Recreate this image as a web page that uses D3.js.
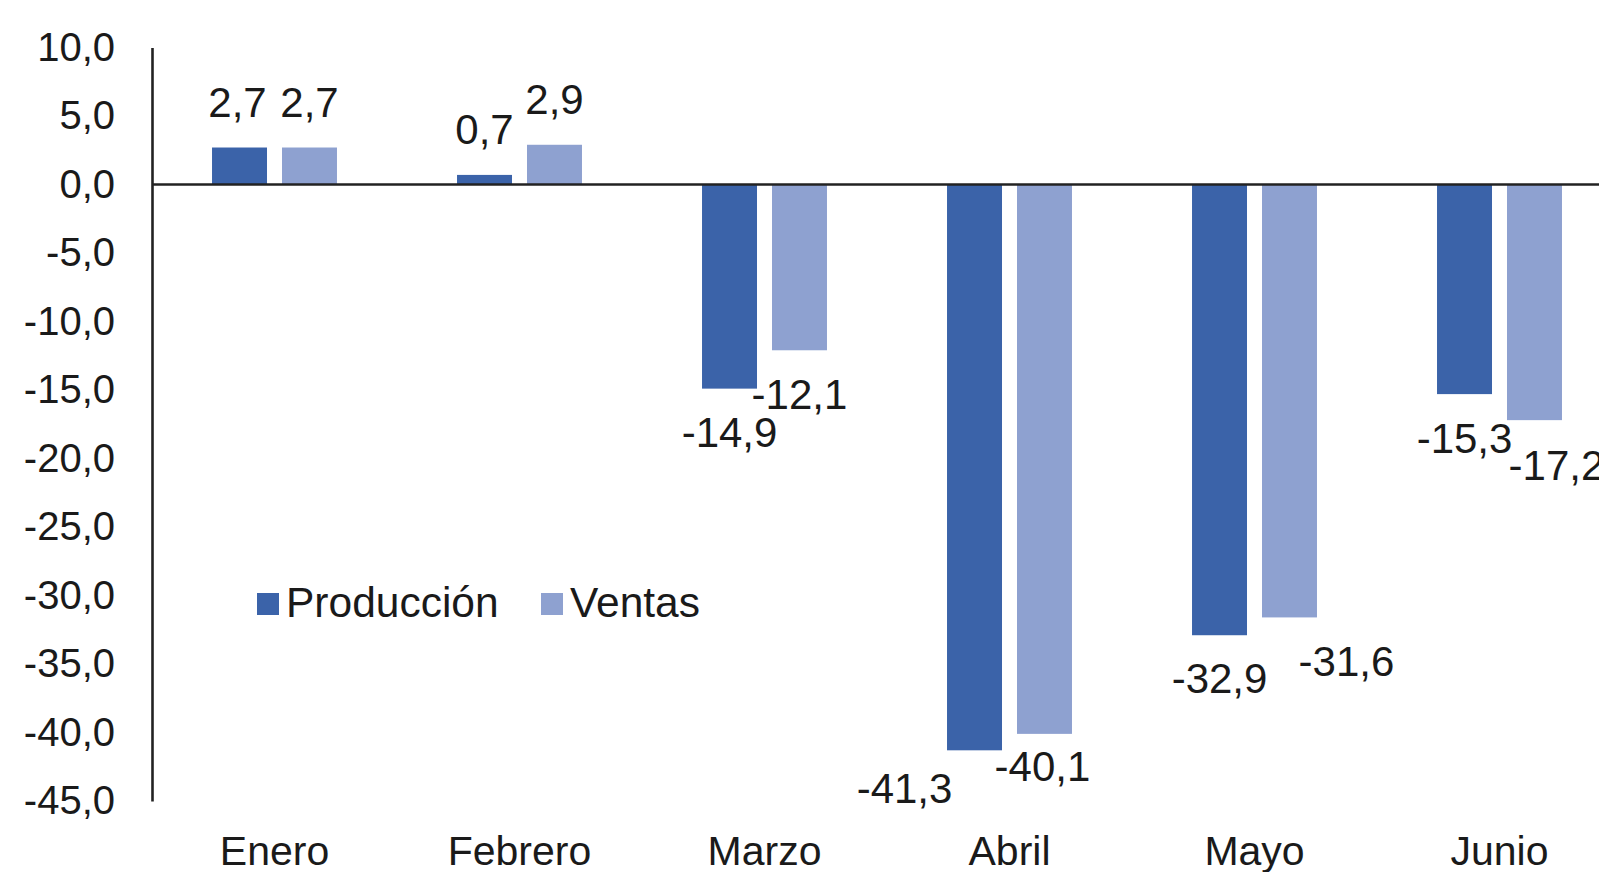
<!DOCTYPE html>
<html>
<head>
<meta charset="utf-8">
<script src="https://cdn.jsdelivr.net/npm/d3@7"></script>
<style>
  body { margin: 0; background: #fff; }
  text { font-family: "Liberation Sans", Arial, sans-serif; fill: #1a1a1a; }
</style>
</head>
<body>
<svg id="drawing_region"></svg>
<script>
// data
const months = ['Enero', 'Febrero', 'Marzo', 'Abril', 'Mayo', 'Junio'];
const series = ['Producción', 'Ventas'];
const produccion = [2.7, 0.7, -14.9, -41.3, -32.9, -15.3];
const ventas = [2.7, 2.9, -12.1, -40.1, -31.6, -17.2];
const yTicks = [10, 5, 0, -5, -10, -15, -20, -25, -30, -35, -40, -45];

// manual nudges of some data labels (dx, dy), as in the picture
const labelNudge = {
    'Producción': [[-2, 0], [0, 0], [0, 0], [-70, -5], [0, 0], [0, 1]],
    'Ventas':     [[0, 0], [0, 0], [0, 1], [-2, -11], [57, 1], [22, 2]]
};

const colors = { 'Producción': '#3b63a9', 'Ventas': '#8ea1d0' };

const width = 1599, height = 872;
const axisX = 152;

const svg = d3.select('#drawing_region')
    .attr('width', width)
    .attr('height', height);

const locale = d3.formatLocale({ decimal: ',', thousands: '.', grouping: [3], currency: ['', '€'], minus: '-' });
const fmt = locale.format('.1f');

const yscale = d3.scaleLinear()
    .domain([-45, 10])
    .range([801, 47.5]);

const x0 = d3.scaleBand()
    .domain(months)
    .range([axisX, axisX + 6 * 245])
    .paddingInner(0.49)
    .paddingOuter(0.245);

const x1 = d3.scaleBand()
    .domain(series)
    .range([0, x0.bandwidth()])
    .paddingInner(0.2143);

const rows = months.map((m, i) => ({
    month: m,
    values: [
        { key: 'Producción', value: produccion[i], i: i },
        { key: 'Ventas', value: ventas[i], i: i }
    ]
}));

// bars
const groups = svg.selectAll('.group')
    .data(rows)
    .enter()
    .append('g')
    .attr('transform', d => `translate(${x0(d.month)},0)`);

groups.selectAll('rect')
    .data(d => d.values)
    .enter()
    .append('rect')
    .attr('x', d => x1(d.key))
    .attr('width', x1.bandwidth())
    .attr('y', d => yscale(Math.max(0, d.value)))
    .attr('height', d => Math.abs(yscale(d.value) - yscale(0)))
    .attr('fill', d => colors[d.key]);

// data labels
groups.selectAll('.lbl')
    .data(d => d.values)
    .enter()
    .append('text')
    .attr('class', 'lbl')
    .attr('x', d => x1(d.key) + x1.bandwidth() / 2 + labelNudge[d.key][d.i][0])
    .attr('y', d => yscale(d.value) + (d.value >= 0 ? -31 : 58) + labelNudge[d.key][d.i][1])
    .attr('text-anchor', 'middle')
    .attr('font-size', '42px')
    .text(d => fmt(d.value));

// y axis
const yaxis = d3.axisLeft(yscale)
    .tickValues(yTicks)
    .tickFormat(fmt)
    .tickSize(0)
    .tickSizeOuter(0)
    .tickPadding(37);

const yaxis_group = svg.append('g')
    .attr('transform', `translate(${axisX},0)`)
    .call(yaxis);
yaxis_group.select('.domain')
    .attr('stroke', '#222')
    .attr('stroke-width', 2.6);
yaxis_group.selectAll('text')
    .attr('font-size', '40px')
    .attr('font-family', '"Liberation Sans", Arial, sans-serif')
    .attr('fill', '#1a1a1a');

// zero line
svg.append('line')
    .attr('x1', axisX)
    .attr('x2', width)
    .attr('y1', yscale(0))
    .attr('y2', yscale(0))
    .attr('stroke', '#222')
    .attr('stroke-width', 2.6);

// category labels
const xaxis = d3.axisBottom(x0)
    .tickSize(0)
    .tickPadding(36);
const xaxis_group = svg.append('g')
    .attr('transform', 'translate(0,800)')
    .call(xaxis);
xaxis_group.select('.domain').remove();
xaxis_group.selectAll('text')
    .attr('font-size', '41px')
    .attr('font-family', '"Liberation Sans", Arial, sans-serif')
    .attr('fill', '#1a1a1a');

// legend
const legendX = [257, 541];
const legend = svg.selectAll('.legend')
    .data(series)
    .enter()
    .append('g')
    .attr('transform', (d, i) => `translate(${legendX[i]},593)`);
legend.append('rect')
    .attr('width', 22)
    .attr('height', 22)
    .attr('fill', d => colors[d]);
legend.append('text')
    .attr('x', 29)
    .attr('y', 24)
    .attr('font-size', '42.5px')
    .text(d => d);
</script>
</body>
</html>
